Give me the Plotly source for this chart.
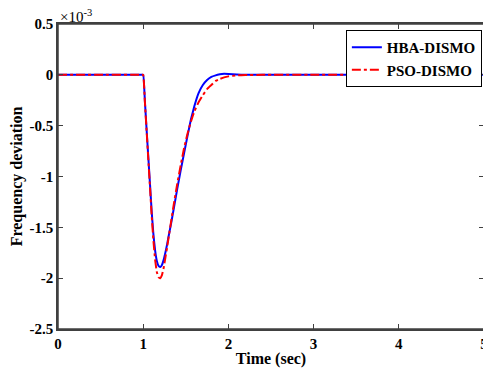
import plotly.graph_objects as go

# time (sec) and frequency deviation (x1e-3)
t = [0, 0.5, 0.9, 0.98, 1.0, 1.02, 1.04, 1.06, 1.08, 1.10, 1.12, 1.14, 1.16, 1.18, 1.20, 1.22, 1.24, 1.26, 1.28, 1.30,
     1.33, 1.36, 1.40, 1.44, 1.48, 1.52, 1.56, 1.60, 1.65, 1.70, 1.75, 1.80, 1.85, 1.90, 1.95, 2.0,
     2.1, 2.2, 2.4, 3, 4, 5]
v_hba = [0, 0, 0, 0, 0, -0.26, -0.54, -0.81, -1.08, -1.35, -1.57, -1.73, -1.83, -1.88, -1.89, -1.87, -1.82, -1.75, -1.67, -1.58,
         -1.45, -1.31, -1.12, -0.94, -0.77, -0.60, -0.44, -0.31, -0.18, -0.10, -0.05, -0.02, -0.005, 0.005, 0.01, 0.008,
         0.003, 0, 0, 0, 0, 0]
v_pso = [0, 0, 0, 0, 0, -0.27, -0.55, -0.83, -1.11, -1.39, -1.63, -1.82, -1.94, -1.99, -2.0, -1.97, -1.9, -1.8, -1.7, -1.59,
         -1.43, -1.27, -1.07, -0.89, -0.72, -0.58, -0.46, -0.36, -0.27, -0.2, -0.14, -0.1, -0.06, -0.04, -0.025, -0.015,
         -0.006, -0.002, 0, 0, 0, 0]

x_ticks = [0, 1, 2, 3, 4, 5]
y_ticks = [0.5, 0, -0.5, -1, -1.5, -2, -2.5]
y_ticklabels = ["0.5", "0", "-0.5", "-1", "-1.5", "-2", "-2.5"]

font = "Liberation Serif, Times New Roman, serif"
axcol = "#404040"

fig = go.Figure()
fig.add_trace(go.Scatter(x=t, y=v_hba, mode="lines", name="<b>HBA-DISMO</b>",
                         line=dict(color="#0000ff", width=2, shape="spline", smoothing=0.3)))
fig.add_trace(go.Scatter(x=t, y=v_pso, mode="lines", name="<b>PSO-DISMO</b>",
                         line=dict(color="#ff0000", width=2, dash="dashdot", shape="spline", smoothing=0.3)))

axis_common = dict(showline=True, linecolor=axcol, linewidth=1.5, mirror="ticks",
                   ticks="inside", ticklen=5, tickcolor=axcol, showgrid=False, zeroline=False,
                   automargin=False, ticklabeloverflow="allow",
                   tickfont=dict(family=font, size=15, color="black"))

fig.update_xaxes(range=[0, 5], tickvals=x_ticks, ticktext=[f"<b>{v}</b>" for v in x_ticks],
                 title=dict(text="<b>Time (sec)</b>", font=dict(family=font, size=16, color="black"), standoff=2),
                 **axis_common)
fig.update_yaxes(range=[-2.5, 0.5], tickvals=y_ticks, ticktext=[f"<b>{v}</b>" for v in y_ticklabels],
                 title=dict(text="<b>Frequency deviation</b>", font=dict(family=font, size=16, color="black"), standoff=6),
                 **axis_common)

# frame around the plot area
fig.add_shape(type="rect", xref="paper", yref="paper", x0=0, y0=0, x1=1, y1=1,
              line=dict(color=axcol, width=1.5), fillcolor="rgba(0,0,0,0)", layer="above")

fig.add_annotation(x=0, y=1, xref="paper", yref="paper", text="×10<sup>-3</sup>", showarrow=False,
                   xanchor="left", yanchor="bottom", yshift=-3,
                   font=dict(family=font, size=15, color="black"))

# page body has an 8px margin, so the figure is sized to fit the 491x371 window
fig.update_layout(
    width=483, height=363,
    margin=dict(l=50, r=7, t=16, b=42),
    plot_bgcolor="white", paper_bgcolor="white",
    font=dict(family=font, color="black"),
    legend=dict(x=0.995, y=0.98, xanchor="right", yanchor="top",
                bordercolor="black", borderwidth=1, bgcolor="white",
                font=dict(family=font, size=15, color="black"),
                tracegroupgap=0, itemwidth=30),
    showlegend=True,
)

fig.write_html("out.html")
